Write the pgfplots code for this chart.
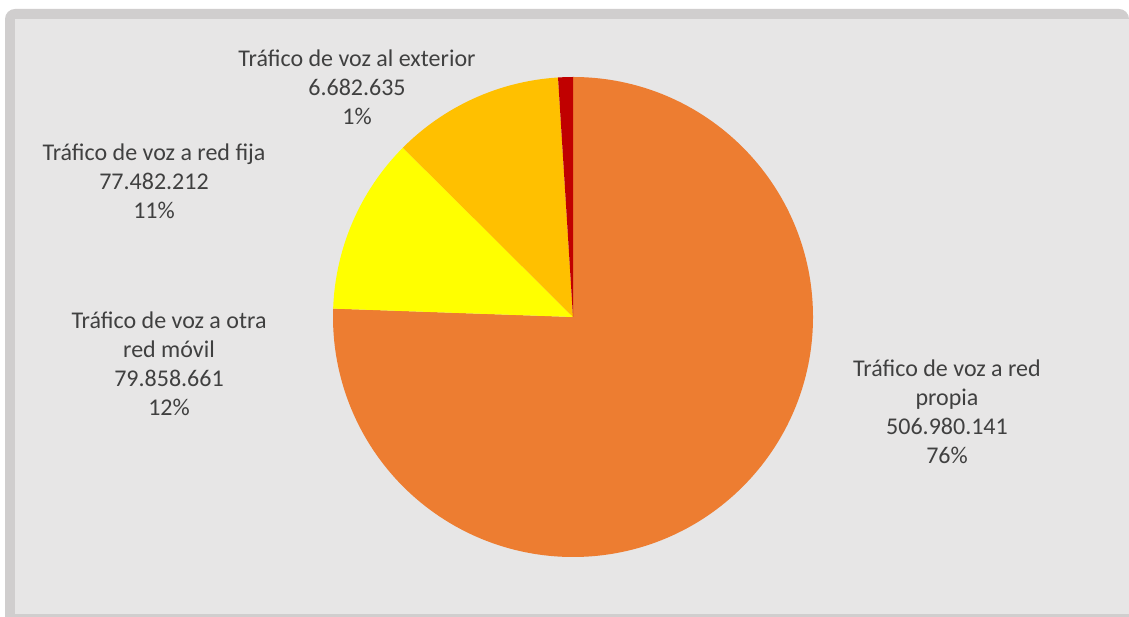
\documentclass[border=0pt]{standalone}
\usepackage{pgfplots}
\usepackage{pgfplotstable}
\pgfplotsset{compat=1.18}
\usepackage{fontspec}
\setmainfont{Carlito}
\definecolor{bgin}{HTML}{E7E6E6}
\definecolor{bgborder}{HTML}{D0CECE}
\definecolor{cOrange}{HTML}{ED7D31}
\definecolor{cYellow}{HTML}{FFFF00}
\definecolor{cGold}{HTML}{FFC000}
\definecolor{cRed}{HTML}{C00000}
\definecolor{txt}{HTML}{404040}
% values in millions
\pgfplotstableread{
value
506.980141
79.858661
77.482212
6.682635
}\pietable
\begin{document}
\begin{tikzpicture}
\pgfplotstablegetelem{0}{value}\of\pietable \let\va\pgfplotsretval
\pgfplotstablegetelem{1}{value}\of\pietable \let\vb\pgfplotsretval
\pgfplotstablegetelem{2}{value}\of\pietable \let\vc\pgfplotsretval
\pgfplotstablegetelem{3}{value}\of\pietable \let\vd\pgfplotsretval
\pgfmathsetmacro{\tot}{\va+\vb+\vc+\vd}
\pgfmathsetmacro{\ea}{90-360*(\va/\tot)}
\pgfmathsetmacro{\eb}{\ea-360*(\vb/\tot)}
\pgfmathsetmacro{\ec}{\eb-360*(\vc/\tot)}
\pgfmathsetmacro{\ed}{\ec-360*(\vd/\tot)}
\begin{axis}[
  width=564.5bp, height=308.5bp, scale only axis,
  xmin=0, xmax=1129, ymin=0, ymax=617,
  hide axis, clip=false,
]
\fill[white] (axis cs:0,0) rectangle (axis cs:1129,617);
\fill[bgborder] (axis cs:5,0) {[rounded corners=5bp] -- (axis cs:5,608) -- (axis cs:1129,608)} -- (axis cs:1129,0) -- cycle;
\fill[bgin] (axis cs:15,3) rectangle (axis cs:1129,598);
% pie
\fill[cOrange] (axis cs:573,300) -- ++(90:120bp) arc[start angle=90, end angle=\ea, radius=120bp] -- cycle;
\fill[cYellow] (axis cs:573,300) -- ++(\ea:120bp) arc[start angle=\ea, end angle=\eb, radius=120bp] -- cycle;
\fill[cGold] (axis cs:573,300) -- ++(\eb:120bp) arc[start angle=\eb, end angle=\ec, radius=120bp] -- cycle;
\fill[cRed] (axis cs:573,300) -- ++(\ec:120bp) arc[start angle=\ec, end angle=\ed, radius=120bp] -- cycle;
% labels
\tikzset{lbl/.style={align=center, text=txt, font=\fontsize{12bp}{14.5bp}\selectfont, inner sep=0pt}}
\node[lbl] at (axis cs:357,530) {Tráfico de voz al exterior\\6.682.635\\1\%};
\node[lbl] at (axis cs:154,436) {Tráfico de voz a red fija\\77.482.212\\11\%};
\node[lbl] at (axis cs:169,253.5) {Tráfico de voz a otra\\red móvil\\79.858.661\\12\%};
\node[lbl] at (axis cs:947,205.5) {Tráfico de voz a red\\propia\\506.980.141\\76\%};
\end{axis}
\end{tikzpicture}
\end{document}
